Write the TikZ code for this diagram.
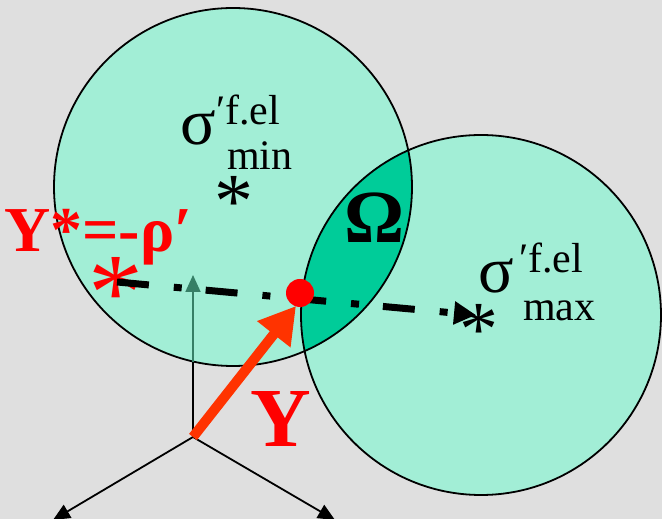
\documentclass[tikz,border=0pt]{standalone}
\usepackage{fontspec}
\setmainfont{Liberation Serif}
\usepackage{tikz}
\usetikzlibrary{arrows.meta, calc}

\definecolor{bggray}{HTML}{DFDFDF}
\definecolor{lightteal}{HTML}{A2EED6}
\definecolor{darkteal}{HTML}{00CC99}
\definecolor{axisgreen}{HTML}{367F66}
\definecolor{vecred}{HTML}{FF3300}

\begin{document}
\begin{tikzpicture}[
  x=1pt, y=1pt,
  disc/.style    = {draw=black, line width=1.8pt},
  txt/.style     = {inner sep=0pt, anchor=base west},
  suptxt/.style  = {txt, text depth=0pt, font=\fontsize{42}{42}\selectfont},
  subtxt/.style  = {txt, text height=20pt, font=\fontsize{42}{42}\selectfont},
  star/.style    = {inner sep=0pt, anchor=base, text height=0.62em, text depth=0pt,
                    font=\fontsize{78}{78}\selectfont},
  axarr/.style   = {line width=1.8pt, -{Triangle[length=17pt, width=15pt]}},
  patharr/.style = {line width=7pt, dash pattern=on 32pt off 25pt on 8pt off 24pt,
                    -{Triangle[length=22pt, width=22pt]}},
  vecarr/.style  = {vecred, line width=10pt, -{Triangle[length=36pt, width=40pt]}},
]

%% ── Fondo ────────────────────────────────────────────────────────────────
\fill[bggray] (0,0) rectangle (662,519);
\useasboundingbox (0,0) rectangle (662,519);

%% ── Circulos y region Omega ──────────────────────────────────────────────
\coordinate (cmin) at (233, 332);
\coordinate (cmax) at (481, 204);
\fill[lightteal] (cmin) circle (179);
\fill[lightteal] (cmax) circle (180);
\begin{scope}
  \clip (cmin) circle (179);
  \fill[darkteal] (cmax) circle (180);
\end{scope}
\draw[disc] (cmin) circle (179);
\draw[disc] (cmax) circle (180);

%% ── Ejes ─────────────────────────────────────────────────────────────────
\coordinate (O)     at (193, 82);
\coordinate (axl)   at (53, -1);
\coordinate (axr)   at (335, -1);
\coordinate (axbot) at (193, 157);
\coordinate (axtop) at (193, 244);
\draw[axarr] (O) -- (axl);
\draw[axarr] (O) -- (axr);
\draw[line width=1.8pt] (O) -- (axbot);
\draw[axarr, axisgreen] (axbot) -- (axtop);

%% ── Textos sigma ─────────────────────────────────────────────────────────
\node[txt, font=\fontsize{66}{66}\selectfont] (sgmin) at (180, 374) {σ};
\node[suptxt] (supmin) at (216, 394) {′f.el};
\node[subtxt] (submin) at (227, 349) {min};
\node[star] (stmin) at (234, 291) {*};

\node[txt, font=\fontsize{66}{66}\selectfont] (sgmax) at (478, 226) {σ};
\node[suptxt] (supmax) at (519, 246) {′f.el};
\node[subtxt] (submax) at (523, 198) {max};
\node[star] (stmax) at (479, 163) {*};

\node[txt, font=\bfseries\fontsize{75}{75}\selectfont] (omega) at (344, 276) {Ω};

%% ── Punto Y* y trayectoria ───────────────────────────────────────────────
\node[txt, red, text depth=0pt, font=\bfseries\fontsize{64}{64}\selectfont]
     (ystar) at (4, 267) {Y*=-ρ′};
\node[star, red, font=\fontsize{110}{110}\selectfont] (stred) at (116, 189) {*};
\coordinate (pstart) at (117, 237);
\coordinate (pend)   at (476, 204);
\draw[patharr] (pstart) -- (pend);

%% ── Vector Y ─────────────────────────────────────────────────────────────
\coordinate (ytip) at (296, 213);
\draw[vecarr] (O) -- (ytip);
\fill[red] (300, 226) circle (14);
\node[txt, red, font=\bfseries\fontsize{84}{84}\selectfont] (ylbl) at (250, 72) {Y};

\end{tikzpicture}
\end{document}
